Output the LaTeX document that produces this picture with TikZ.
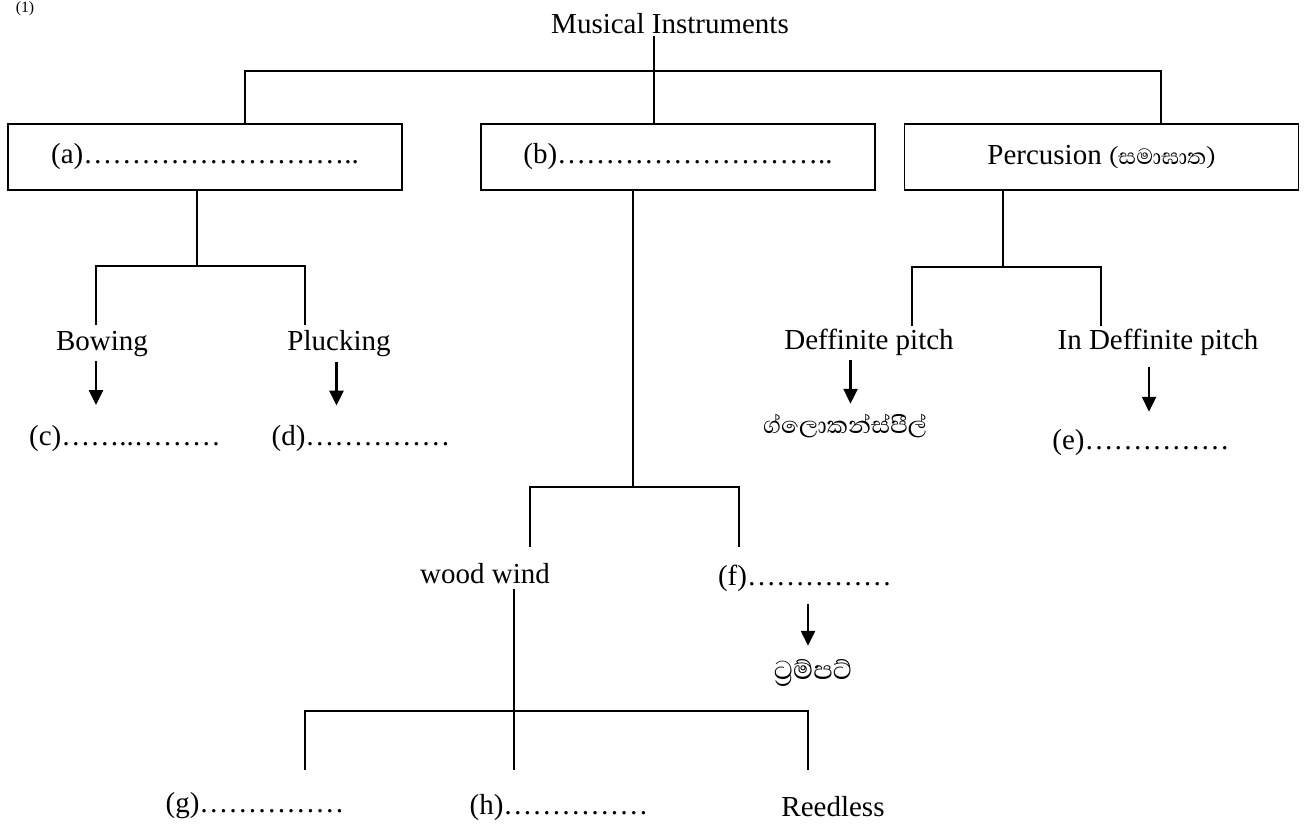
\documentclass[tikz,border=0pt]{standalone}
\usepackage{fontspec}
\setmainfont{Liberation Serif}
\newfontfamily\sinfont[Script=Sinhala]{Abhaya Libre}
\usetikzlibrary{arrows.meta}
\begin{document}
\begin{tikzpicture}[>={Triangle[width=8pt,length=8.5pt]},x=0.02cm,y=-0.02cm,
	every node/.style={font=\fontsize{16.5pt}{19pt}\selectfont,inner sep=2pt},
	box/.style={draw,line width=1pt,minimum width=7.88cm,minimum height=1.32cm},
	sin/.style={font=\sinfont\fontsize{17pt}{20pt}\selectfont},
	arr/.style={->,line width=1.4pt},
	every path/.style={line width=1pt}]
	%	\draw[color=gray,dash pattern=on 1pt off 1pt,step=2cm] (0,0) grid (1314,825);
	\useasboundingbox (0,0) rectangle (1314,825);
	\node[font=\fontsize{9pt}{10pt}\selectfont] (num) at (25,9) {(1)};
	\node (mi) at (670,24) {Musical Instruments};
	\node[box] (a) at (205,157) {(a)………………………..};
	\node[box] (b) at (678,157) {(b)………………………..};
	\node[box] (p) at (1101.5,157) {Percusion {\sinfont\fontsize{16pt}{18pt}\selectfont(සමාඝාත)}};
	\coordinate (t0) at (654,36);
	\coordinate (tl) at (245,71);
	\coordinate (tr) at (1161,71);
	\draw (t0) -- (t0 |- b.north);
	\draw (tl |- a.north) -- (tl) -- (tr) -- (tr |- p.north);
	% string
	\coordinate (ja) at (197,266);
	\coordinate (bw) at (96,325);
	\coordinate (pl) at (305,325);
	\draw (ja |- a.south) -- (ja);
	\draw (bw) |- (ja) -| (pl);
	\node (bowing) at (102,344) {Bowing};
	\node (plucking) at (339,344) {Plucking};
	\node (c) at (125,439) {(c)……..………};
	\node (d) at (361,439) {(d)……………};
	\draw[arr] (bowing.south -| bw) -- ++(0,44);
	\draw[arr] ([xshift=-0.05cm]plucking.south) -- ++(0,44);
	% wind
	\coordinate (jb) at (633,487);
	\coordinate (ww) at (530,547);
	\coordinate (ff) at (739,547);
	\draw (jb |- b.south) -- (jb);
	\draw (ww) |- (jb) -| (ff);
	\node (wood) at (485,574) {wood wind};
	\node (f) at (805,578) {(f)……………};
	\node[sin,font=\sinfont\fontsize{19pt}{22pt}\selectfont] (trumpet) at (813,673) {ට්‍රම්පට්};
	\draw[arr] ([xshift=0.06cm,yshift=-0.16cm]f.south) -- ++(0,42);
	\coordinate (jw) at (514,711);
	\coordinate (gg) at (305,770);
	\coordinate (hh) at (514,770);
	\coordinate (rr) at (808,770);
	\draw (wood.south -| jw) -- (hh);
	\draw (gg) |- (jw) -| (rr);
	\node (g) at (255,806) {(g)……………};
	\node (h) at (559,808) {(h)……………};
	\node (reed) at (833,807) {Reedless};
	% percussion
	\coordinate (jp) at (1003,267);
	\coordinate (dd) at (912,326);
	\coordinate (id) at (1101,326);
	\draw (jp |- p.south) -- (jp);
	\draw (dd) |- (jp) -| (id);
	\node (dp) at (869,342) {Deffinite pitch};
	\node (idp) at (1158,342) {In Deffinite pitch};
	\node[sin] (glock) at (845,426) {ග්ලොකන්ස්පීල්};
	\node (e) at (1141,443) {(e)……………};
	\draw[arr] ([xshift=-0.37cm]dp.south) -- ++(0,44);
	\draw[arr] ([xshift=-0.18cm,yshift=-0.14cm]idp.south) -- ++(0,45);
\end{tikzpicture}
\end{document}
